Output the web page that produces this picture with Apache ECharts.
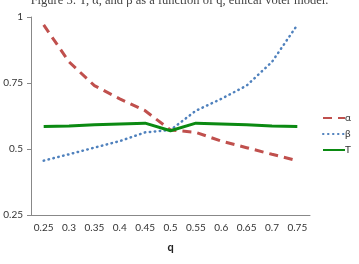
<!DOCTYPE html>
<html>
<head>
<meta charset="utf-8">
<script src="https://cdn.jsdelivr.net/npm/echarts@6/dist/echarts.min.js"></script>
<style>
html, body { margin: 0; padding: 0; background: #fff; }
#chart { width: 359px; height: 264px; }
</style>
</head>
<body>
<div id="chart"></div>
<script>
var qValues = ['0.25', '0.3', '0.35', '0.4', '0.45', '0.5', '0.55', '0.6', '0.65', '0.7', '0.75'];
var alphaData = [0.97, 0.83, 0.74, 0.69, 0.645, 0.572, 0.563, 0.53, 0.505, 0.48, 0.456];
var betaData = [0.456, 0.48, 0.505, 0.53, 0.563, 0.572, 0.645, 0.69, 0.74, 0.83, 0.97];
var tData = [0.585, 0.587, 0.592, 0.595, 0.598, 0.569, 0.598, 0.595, 0.592, 0.587, 0.585];
var yTicks = [0.25, 0.5, 0.75, 1];

var myChart = echarts.init(document.getElementById('chart'));
var axisFont = 'Lato, "Open Sans", sans-serif';

var option = {
	animation: false,
	title: {
		text: 'Figure 3: T, α, and β as a function of q, ethical voter model.',
		left: 'center',
		top: -11,
		textStyle: { fontFamily: '"Liberation Serif", serif', fontWeight: 'normal', fontSize: 12.5, color: '#444' }
	},
	legend: {
		orient: 'vertical',
		left: 317,
		top: 108,
		itemWidth: 22,
		itemHeight: 4,
		itemGap: 6,
		itemStyle: { opacity: 0 },
		textStyle: { fontFamily: axisFont, fontSize: 10, color: '#333', padding: [0, 0, 0, -5] },
		data: ['α', 'β', 'T']
	},
	grid: { left: 31, right: 49, top: 17, bottom: 49 },
	xAxis: {
		type: 'category',
		data: qValues,
		name: 'q',
		nameLocation: 'middle',
		nameGap: 27,
		nameTextStyle: { fontFamily: axisFont, fontSize: 11, fontWeight: 'bold', color: '#222' },
		axisLine: { lineStyle: { color: '#888', width: 1 } },
		axisTick: { alignWithLabel: false, length: 4, lineStyle: { color: '#888' } },
		axisLabel: { fontFamily: axisFont, fontSize: 10, color: '#333', margin: 8, interval: 0 },
		splitLine: { show: false }
	},
	yAxis: {
		type: 'value',
		min: yTicks[0],
		max: yTicks[yTicks.length - 1],
		interval: 0.25,
		axisLine: { show: true, lineStyle: { color: '#888', width: 1 } },
		axisTick: { show: true, length: 4, lineStyle: { color: '#888' } },
		axisLabel: {
			fontFamily: axisFont, fontSize: 10, color: '#333', margin: 8,
			formatter: function (v) { return String(v); }
		},
		splitLine: { show: false }
	},
	series: [
		{
			name: 'α',
			type: 'line',
			data: alphaData,
			symbol: 'none',
			itemStyle: { color: '#C0504D' },
			lineStyle: { color: '#C0504D', width: 3, type: [9, 6] }
		},
		{
			name: 'β',
			type: 'line',
			data: betaData,
			symbol: 'none',
			itemStyle: { color: '#4F81BD' },
			lineStyle: { color: '#4F81BD', width: 2.5, type: [0.5, 4.5], cap: 'round' }
		},
		{
			name: 'T',
			type: 'line',
			data: tData,
			symbol: 'none',
			itemStyle: { color: '#0B8A12' },
			lineStyle: { color: '#0B8A12', width: 3 }
		}
	]
};
myChart.setOption(option);
</script>
</body>
</html>
